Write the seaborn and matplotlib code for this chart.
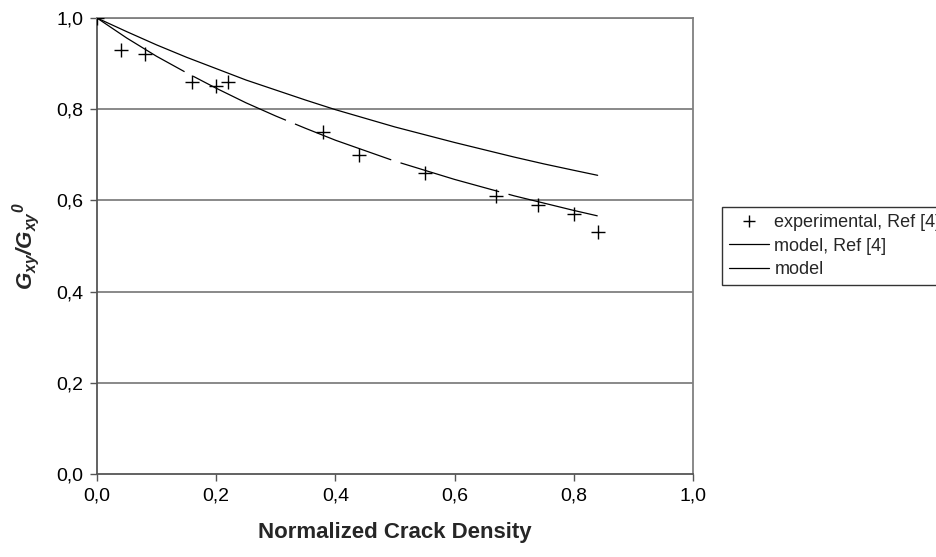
import matplotlib
matplotlib.use("Agg")
import matplotlib.pyplot as plt
from matplotlib.lines import Line2D
from matplotlib.ticker import FuncFormatter, MultipleLocator
import seaborn as sns
import pandas as pd

# Experimental points (Ref [4])
exp_density = [0.0, 0.04, 0.08, 0.16, 0.20, 0.22, 0.38, 0.44, 0.55, 0.67, 0.74, 0.80, 0.84]
exp_ratio = [1.00, 0.93, 0.92, 0.86, 0.85, 0.86, 0.75, 0.70, 0.66, 0.61, 0.59, 0.57, 0.53]

# Model curves sampled along crack density
model_density = [0.0, 0.05, 0.10, 0.15, 0.20, 0.25, 0.30, 0.35, 0.40, 0.45,
                 0.50, 0.55, 0.60, 0.65, 0.70, 0.75, 0.80, 0.84]
model_ref4_ratio = [1.000, 0.970, 0.941, 0.914, 0.889, 0.864, 0.842, 0.820, 0.799, 0.780,
                    0.761, 0.744, 0.727, 0.711, 0.695, 0.680, 0.666, 0.655]
model_ratio = [1.000, 0.956, 0.916, 0.880, 0.846, 0.814, 0.785, 0.758, 0.732, 0.709,
               0.686, 0.666, 0.646, 0.628, 0.610, 0.594, 0.578, 0.566]

tick_values = [0.0, 0.2, 0.4, 0.6, 0.8, 1.0]

sns.set_theme(style="white")
plt.rcParams["font.family"] = ["Liberation Sans", "DejaVu Sans"]
plt.rcParams["mathtext.fontset"] = "custom"
plt.rcParams["mathtext.bf"] = "Liberation Sans:bold:italic"
plt.rcParams["mathtext.it"] = "Liberation Sans:italic"
plt.rcParams["mathtext.rm"] = "Liberation Sans"
plt.rcParams["lines.scale_dashes"] = False

fig = plt.figure(figsize=(9.37, 5.57), dpi=100)
ax = fig.add_axes([97 / 937, 83 / 557, 596 / 937, 456 / 557])

df_exp = pd.DataFrame({"x": exp_density, "y": exp_ratio})
df_mod = pd.DataFrame({"x": model_density, "ref4": model_ref4_ratio, "model": model_ratio})

grid_color = "#808080"
for v in tick_values[1:]:
    ax.axhline(v, color=grid_color, lw=1.3, zorder=0)

sns.lineplot(data=df_mod, x="x", y="ref4", ax=ax, color="black", lw=0.9, zorder=3)
sns.lineplot(data=df_mod, x="x", y="model", ax=ax, color="black", lw=0.9,
             linestyle=(0, (74, 7)), zorder=3)
sns.scatterplot(data=df_exp, x="x", y="y", ax=ax, marker="+", color="black",
                s=90, linewidth=1.0, zorder=4)

ax.set_xlim(0, 1.0)
ax.set_ylim(0, 1.0)
ax.set_xticks(tick_values)
ax.set_yticks(tick_values)
fmt = FuncFormatter(lambda v, p: f"{v:.1f}".replace(".", ","))
ax.xaxis.set_major_formatter(fmt)
ax.yaxis.set_major_formatter(fmt)
ax.tick_params(axis="both", which="major", direction="out", length=5, width=1,
               color="#555555", labelsize=14, labelcolor="black", pad=5,
               bottom=True, left=True)

ax.spines["left"].set_color("#555555")
ax.spines["left"].set_linewidth(1.3)
ax.spines["bottom"].set_color("#555555")
ax.spines["bottom"].set_linewidth(1.3)
ax.spines["right"].set_color(grid_color)
ax.spines["right"].set_linewidth(1.3)
ax.spines["top"].set_color(grid_color)
ax.spines["top"].set_linewidth(1.3)

ax.set_xlabel("Normalized Crack Density", fontsize=16, fontweight="bold", labelpad=12)
ax.set_ylabel(r"$\mathbf{G_{xy}/G_{xy}{}^{0}}$", fontsize=16, labelpad=10)

handles = [
    Line2D([], [], color="black", marker="+", linestyle="none", markersize=9, markeredgewidth=1.0),
    Line2D([], [], color="black", lw=0.9),
    Line2D([], [], color="black", lw=0.9),
]
labels = ["experimental, Ref [4]", "model, Ref [4]", "model"]
leg = fig.legend(handles, labels, loc="upper left", bbox_to_anchor=(722 / 937, 1 - 207 / 557),
                 bbox_transform=fig.transFigure, fontsize=13, frameon=True, fancybox=False,
                 edgecolor="#333333", framealpha=1, borderpad=0.4, handlelength=2.2,
                 handletextpad=0.3, labelspacing=0.35, borderaxespad=0)
leg.get_frame().set_linewidth(1.0)

fig.savefig("out.png", dpi=100)
